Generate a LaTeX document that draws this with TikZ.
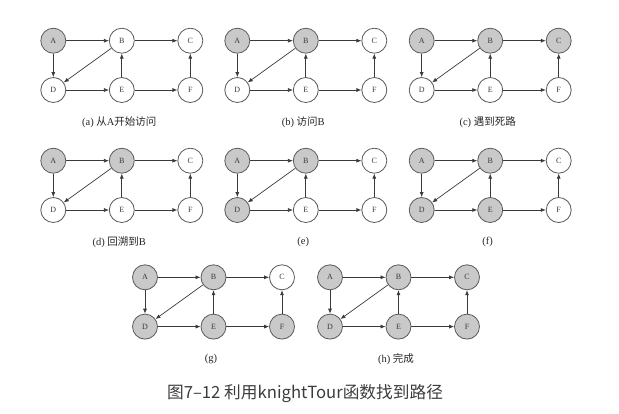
\documentclass[tikz,border=0pt]{standalone}
\usepackage{fontspec}
\setmainfont{Liberation Serif}
\newfontfamily\cjk{Noto Sans CJK SC}
\usetikzlibrary{arrows.meta}
\definecolor{ink}{HTML}{3A3A3A}
\definecolor{rim}{HTML}{5A5A5A}
\definecolor{visited}{HTML}{C9C9C9}
\definecolor{titleink}{HTML}{3C3C3C}
\tikzset{
  spot/.style={circle,draw=rim,fill=white,line width=0.8pt,minimum size=25pt,
               inner sep=0pt,font=\fontsize{8}{9}\selectfont,text=ink},
  seen/.style={fill=visited},
  vA/.style={},vB/.style={},vC/.style={},vD/.style={},vE/.style={},vF/.style={},
  visit/.style={v#1/.style={seen}},
  hop/.style={-{Latex[length=5pt,width=4pt]},line width=0.7pt,draw=ink},
  subcap/.style={font=\fontsize{10.5}{12}\selectfont,text=black!85}
}
% one panel: name, origin (node A), visited nodes, caption
\newcommand{\tourpanel}[4]{%
  \begin{scope}[shift={#2},#3]
    \foreach \nm/\px/\py in {A/0/0,B/1/0,C/2/0,D/0/1,E/1/1,F/2/1}
      \node[spot,v\nm] (#1\nm) at (68.5*\px,49.3*\py) {\nm};
    \foreach \p/\q in {A/B,B/C,A/D,B/D,D/E,E/B,E/F,F/C}
      \draw[hop] (#1\p) -- (#1\q);
    \node[subcap] (#1cap) at (66,81.5) {#4};
  \end{scope}}

\begin{document}
\begin{tikzpicture}[x=1pt,y=-1pt]
  \useasboundingbox (0,0) rectangle (619,413);
  \tourpanel{a}{(53.3,40.7)}{visit/.list={A}}{(a) {\cjk 从}A{\cjk 开始访问}}
  \tourpanel{b}{(237.3,40.7)}{visit/.list={A,B}}{(b) {\cjk 访问}B}
  \tourpanel{c}{(421.7,40.7)}{visit/.list={A,B,C}}{(c) {\cjk 遇到死路}}
  \tourpanel{d}{(53.3,160.7)}{visit/.list={A,B}}{(d) {\cjk 回溯到}B}
  \tourpanel{e}{(237.3,160.7)}{visit/.list={A,B,D}}{(e)}
  \tourpanel{f}{(421.7,160.7)}{visit/.list={A,B,D,E}}{(f)}
  \tourpanel{g}{(145,277.3)}{visit/.list={A,B,D,E,F}}{(g)}
  \tourpanel{h}{(330,277.3)}{visit/.list={A,B,C,D,E,F}}{(h) {\cjk 完成}}
  % figure title
  \node[font=\cjk\fontsize{16.7}{20}\selectfont,text=titleink] (title)
    at (305,393.3) {图7–12 利用knightTour函数找到路径};
\end{tikzpicture}
\end{document}
